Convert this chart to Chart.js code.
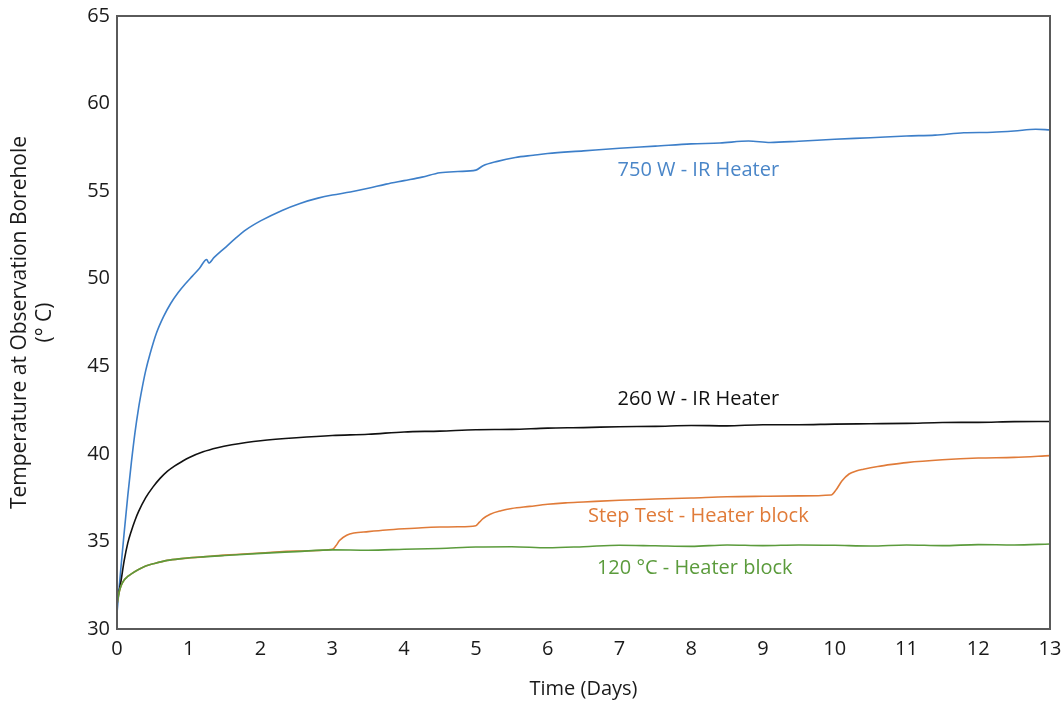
<!DOCTYPE html>
<html>
<head>
<meta charset="utf-8">
<script src="https://cdn.jsdelivr.net/npm/chart.js@4.4.1/dist/chart.umd.min.js"></script>
<style>
  html, body { margin: 0; padding: 0; background: #fff; }
  #box { width: 1064px; height: 704px; position: relative; }
</style>
</head>
<body>
<div id="box"><canvas id="myChart"></canvas></div>
<script>
// values (days, deg C)
const blueDays  = [0, 0.05, 0.1, 0.15, 0.2, 0.25, 0.3, 0.35, 0.4, 0.46, 0.55, 0.65, 0.75, 0.85, 0.95, 1.05, 1.15, 1.25, 1.28, 1.35, 1.5, 1.65, 1.8, 2.0, 2.3, 2.55, 2.8, 3.0, 3.25, 3.5, 3.75, 4.0, 4.25, 4.5, 4.75, 5.0, 5.1, 5.3, 5.55, 5.8, 6.0, 6.5, 7.0, 7.5, 8.0, 8.4, 8.8, 9.1, 9.5, 10.0, 10.5, 11.0, 11.4, 11.8, 12.2, 12.5, 12.8, 13.0];
const blueTemps = [30.9, 33.3, 35.5, 37.6, 39.5, 41.2, 42.6, 43.75, 44.75, 45.7, 46.9, 47.85, 48.6, 49.2, 49.7, 50.15, 50.6, 51.1, 50.9, 51.2, 51.75, 52.3, 52.8, 53.3, 53.9, 54.3, 54.6, 54.78, 54.95, 55.16, 55.4, 55.6, 55.8, 56.05, 56.12, 56.2, 56.45, 56.7, 56.92, 57.05, 57.15, 57.3, 57.45, 57.57, 57.7, 57.75, 57.86, 57.78, 57.85, 57.96, 58.05, 58.15, 58.2, 58.33, 58.36, 58.43, 58.53, 58.5];

const blackDays  = [0, 0.05, 0.1, 0.15, 0.2, 0.25, 0.3, 0.4, 0.5, 0.6, 0.7, 0.8, 0.9, 1.0, 1.2, 1.4, 1.6, 1.8, 2.0, 2.5, 3.0, 3.5, 4.0, 4.5, 5.0, 5.5, 6.0, 6.5, 7.0, 7.5, 8.0, 8.5, 9.0, 9.5, 10.0, 10.5, 11.0, 11.5, 12.0, 12.5, 13.0];
const blackTemps = [31.6, 32.6, 33.9, 34.9, 35.6, 36.2, 36.7, 37.5, 38.1, 38.6, 39.0, 39.3, 39.55, 39.78, 40.12, 40.35, 40.52, 40.65, 40.75, 40.92, 41.05, 41.12, 41.25, 41.3, 41.38, 41.4, 41.47, 41.5, 41.55, 41.57, 41.62, 41.6, 41.66, 41.66, 41.7, 41.72, 41.74, 41.79, 41.8, 41.84, 41.85];

const stepDays  = [0, 0.03, 0.06, 0.1, 0.15, 0.2, 0.3, 0.4, 0.5, 0.7, 0.9, 1.2, 1.5, 2.0, 2.5, 3.0, 3.05, 3.1, 3.2, 3.3, 3.5, 3.75, 4.0, 4.25, 4.5, 4.75, 5.0, 5.05, 5.1, 5.2, 5.35, 5.5, 5.75, 6.0, 6.25, 6.5, 7.0, 7.5, 8.0, 8.5, 9.0, 9.5, 9.95, 10.02, 10.1, 10.2, 10.3, 10.4, 10.6, 10.8, 11.0, 11.5, 12.0, 12.5, 13.0];
const stepTemps = [31.4, 32.1, 32.5, 32.8, 33.0, 33.15, 33.4, 33.6, 33.72, 33.92, 34.02, 34.12, 34.22, 34.34, 34.45, 34.55, 34.75, 35.05, 35.35, 35.48, 35.56, 35.65, 35.72, 35.78, 35.82, 35.84, 35.9, 36.1, 36.3, 36.55, 36.75, 36.88, 37.0, 37.12, 37.2, 37.25, 37.35, 37.42, 37.48, 37.55, 37.58, 37.6, 37.65, 37.95, 38.45, 38.85, 39.02, 39.12, 39.28, 39.4, 39.5, 39.66, 39.76, 39.8, 39.9];

const greenDays  = [0, 0.03, 0.06, 0.1, 0.15, 0.2, 0.3, 0.4, 0.5, 0.7, 0.9, 1.2, 1.5, 2.0, 2.5, 3.0, 3.5, 4.0, 4.5, 5.0, 5.5, 6.0, 6.5, 7.0, 7.5, 8.0, 8.5, 9.0, 9.5, 10.0, 10.5, 11.0, 11.5, 12.0, 12.5, 13.0];
const greenTemps = [31.4, 32.1, 32.5, 32.8, 33.0, 33.15, 33.4, 33.6, 33.72, 33.92, 34.02, 34.12, 34.2, 34.32, 34.42, 34.52, 34.5, 34.55, 34.6, 34.68, 34.7, 34.64, 34.7, 34.78, 34.75, 34.72, 34.8, 34.76, 34.8, 34.78, 34.74, 34.8, 34.76, 34.82, 34.8, 34.85];

const xTicks = [0, 1, 2, 3, 4, 5, 6, 7, 8, 9, 10, 11, 12, 13];
const yTicks = [30, 35, 40, 45, 50, 55, 60, 65];

// curve labels inside the plot, in data coordinates
const labelText  = ['750 W - IR Heater', '260 W - IR Heater', 'Step Test - Heater block', '120 °C - Heater block'];
const labelDay   = [8.1, 8.1, 8.1, 8.05];
const labelTemp  = [56.2, 43.1, 36.45, 33.45];
const labelColor = ['#4a86c8', '#111111', '#e07b39', '#5b9b3c'];

const FONT = "'Open Sans', 'Noto Sans', sans-serif";

function pts(days, temps) {
    let out = [];
    for (let i = 0; i < days.length; i++) {
        out.push({ x: days[i], y: temps[i] })
    }
    return out;
}

const frameAndLabels = {
    id: 'frameAndLabels',
    afterDatasetsDraw(chart) {
        const { ctx, chartArea, scales } = chart;
        ctx.save();
        ctx.strokeStyle = '#5a5a5a';
        ctx.lineWidth = 2;
        ctx.strokeRect(chartArea.left, chartArea.top, chartArea.right - chartArea.left, chartArea.bottom - chartArea.top);
        ctx.font = '20px ' + FONT;
        ctx.textAlign = 'center';
        ctx.textBaseline = 'middle';
        for (let i = 0; i < labelText.length; i++) {
            ctx.fillStyle = labelColor[i];
            ctx.fillText(labelText[i], scales.x.getPixelForValue(labelDay[i]), scales.y.getPixelForValue(labelTemp[i]));
        }
        ctx.restore();
    }
};

const ctx = document.getElementById('myChart');
const line = (data, color) => ({
    data,
    borderColor: color,
    borderWidth: 1.6,
    pointRadius: 0,
    cubicInterpolationMode: 'monotone',
    fill: false
});

new Chart(ctx, {
    type: 'line',
    data: {
        datasets: [
            line(pts(greenDays, greenTemps), '#5b9b3c'),
            line(pts(stepDays, stepTemps), '#e07b39'),
            line(pts(blackDays, blackTemps), '#111111'),
            line(pts(blueDays, blueTemps), '#3d7fc9')
        ]
    },
    options: {
        responsive: true,
        maintainAspectRatio: false,
        animation: false,
        layout: { padding: { top: 16, right: 14, bottom: 0, left: 0 } },
        scales: {
            x: {
                type: 'linear',
                min: 0,
                max: 13,
                grid: { display: false, drawTicks: false },
                border: { display: false },
                afterBuildTicks(scale) { scale.ticks = xTicks.map(v => ({ value: v })) },
                afterFit(scale) {
                    scale.height = 75;
                    scale.paddingLeft = 0;
                    scale.paddingRight = 0;
                },
                ticks: { padding: 8, color: '#1a1a1a', font: { family: FONT, size: 20 } },
                title: {
                    display: true,
                    text: 'Time (Days)',
                    color: '#1a1a1a',
                    font: { family: FONT, size: 20 },
                    padding: { top: 0, bottom: 3 }
                }
            },
            y: {
                min: 30,
                max: 65,
                grid: { display: false, drawTicks: false },
                border: { display: false },
                afterBuildTicks(scale) { scale.ticks = yTicks.map(v => ({ value: v })) },
                afterFit(scale) {
                    scale.width = 117;
                    scale.paddingTop = 0;
                    scale.paddingBottom = 0;
                },
                ticks: { padding: 7, color: '#1a1a1a', font: { family: FONT, size: 20 } },
                title: {
                    display: true,
                    text: ['Temperature at Observation Borehole', '(° C)'],
                    color: '#1a1a1a',
                    font: { family: FONT, size: 21, lineHeight: 1.2 },
                    padding: { top: 7, bottom: 0 }
                }
            }
        },
        plugins: {
            legend: { display: false },
            tooltip: { enabled: false }
        }
    },
    plugins: [frameAndLabels]
});
</script>
</body>
</html>
